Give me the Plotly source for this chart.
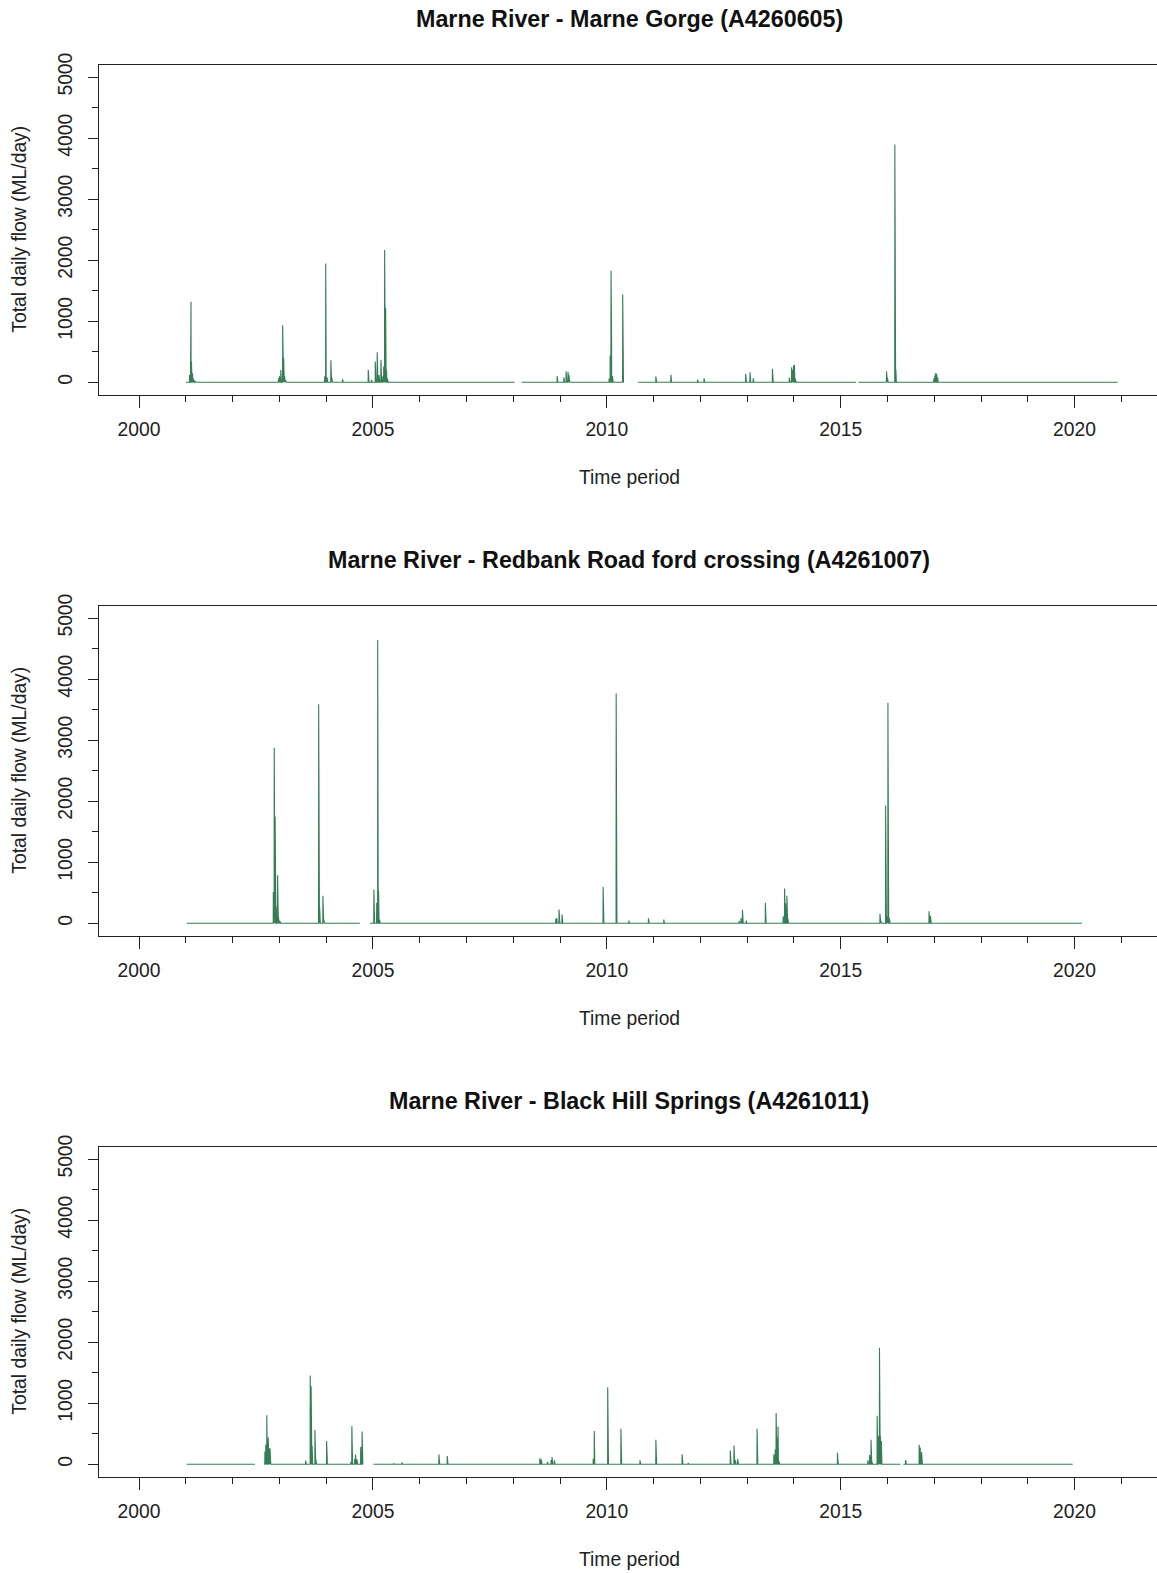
import numpy as np
import pandas as pd
import plotly.graph_objects as go

# ---------------------------------------------------------------- data
STATION_TITLES = [
    "Marne River - Marne Gorge (A4260605)",
    "Marne River - Redbank Road ford crossing (A4261007)",
    "Marne River - Black Hill Springs (A4261011)",
]

# record period (decimal years) and gaps with no record
RECORD_START = [2001.00, 2001.02, 2001.02]
RECORD_END = [2020.92, 2020.16, 2019.96]
GAPS_A4260605 = [(2008.03, 2008.18), (2010.36, 2010.67), (2015.33, 2015.38)]
GAPS_A4261007 = [(2004.72, 2004.94)]
GAPS_A4261011 = [(2002.48, 2002.67), (2004.79, 2005.01), (2016.28, 2016.34)]

# flow events: day (decimal year) and total daily flow (ML/day)
EVENT_YEARS_A4260605 = [
    2001.08, 2001.10, 2001.11, 2001.12, 2001.14, 2001.16, 2001.19,
    2002.98, 2003.00, 2003.03, 2003.07, 2003.09, 2003.11, 2003.13,
    2003.97, 2003.99, 2004.00, 2004.02, 2004.10, 2004.12, 2004.35,
    2004.90, 2004.97, 2005.05, 2005.09, 2005.13, 2005.17, 2005.21, 2005.23,
    2005.25, 2005.27, 2005.29, 2005.31,
    2008.94, 2009.08, 2009.13, 2009.17, 2009.19,
    2010.05, 2010.07, 2010.09, 2010.10, 2010.12, 2010.34,
    2011.05, 2011.37, 2011.94, 2012.08,
    2012.97, 2013.06, 2013.13, 2013.54,
    2013.90, 2013.95, 2013.97, 2013.99, 2014.01, 2014.03,
    2015.98, 2016.00, 2016.16, 2016.18,
    2016.99, 2017.01, 2017.03, 2017.05, 2017.07,
]
EVENT_FLOWS_A4260605 = [
    120, 690, 1320, 340, 150, 60, 30,
    60, 100, 200, 933, 401, 100, 40,
    100, 1947, 1234, 80, 362, 80, 50,
    204, 40, 340, 493, 120, 368, 100, 258,
    2166, 1217, 200, 60,
    100, 80, 180, 170, 120,
    60, 440, 1826, 714, 100, 1437,
    99, 122, 44, 66,
    137, 165, 66, 220,
    77, 247, 200, 275, 286, 60,
    181, 77, 3893, 204,
    60, 110, 150, 140, 80,
]

EVENT_YEARS_A4261007 = [
    2002.87, 2002.89, 2002.91, 2002.93, 2002.96, 2002.98, 2003.01,
    2003.84, 2003.86, 2003.93, 2003.95,
    2005.02, 2005.08, 2005.10, 2005.12, 2005.14,
    2008.91, 2008.93, 2008.98, 2009.04,
    2009.92, 2010.20, 2010.47, 2010.89, 2011.22,
    2012.83, 2012.87, 2012.90, 2012.98, 2013.39,
    2013.77, 2013.80, 2013.82, 2013.85, 2013.87,
    2015.84, 2015.86, 2015.96, 2015.99, 2016.01, 2016.04,
    2016.89, 2016.92,
]
EVENT_FLOWS_A4261007 = [
    514, 2876, 1745, 275, 785, 100, 40,
    3589, 275, 451, 60,
    553, 336, 4638, 530, 60,
    72, 88, 225, 143,
    598, 3765, 45, 82, 60,
    40, 82, 220, 45, 335,
    114, 571, 329, 451, 80,
    155, 40, 1930, 114, 3612, 80,
    197, 122,
]

EVENT_YEARS_A4261011 = [
    2002.69, 2002.71, 2002.73, 2002.76, 2002.78, 2002.80,
    2003.56, 2003.66, 2003.68, 2003.70, 2003.76, 2003.78,
    2004.01,
    2004.53, 2004.55, 2004.61, 2004.63, 2004.66, 2004.74, 2004.77,
    2005.44, 2005.62, 2006.41, 2006.59,
    2008.57, 2008.60, 2008.73, 2008.81, 2008.83, 2008.88,
    2009.71, 2009.73, 2010.02, 2010.30, 2010.71, 2011.05, 2011.61, 2011.74,
    2012.64, 2012.72, 2012.75, 2012.80, 2013.21,
    2013.57, 2013.60, 2013.62, 2013.64, 2013.66, 2013.68,
    2014.93,
    2015.58, 2015.62, 2015.65, 2015.67, 2015.78, 2015.81, 2015.83, 2015.85, 2015.87,
    2016.39, 2016.68, 2016.70, 2016.73,
]
EVENT_FLOWS_A4261011 = [
    211, 319, 805, 438, 267, 260,
    60, 1456, 1280, 300, 560, 80,
    380,
    40, 625, 90, 160, 80, 285, 538,
    15, 30, 160, 135,
    100, 80, 40, 70, 120, 65,
    90, 545, 1261, 583, 65, 403, 165, 20,
    225, 307, 65, 90, 583,
    165, 245, 838, 440, 620, 50,
    190,
    65, 150, 403, 40, 795, 460, 1910, 460, 380,
    70, 320, 275, 200,
]

X_TICK_YEARS = [2000, 2005, 2010, 2015, 2020]
X_TICK_LABELS = ["2000", "2005", "2010", "2015", "2020"]
Y_TICK_VALUES = [0, 1000, 2000, 3000, 4000, 5000]
Y_TICK_LABELS = ["0", "1000", "2000", "3000", "4000", "5000"]
X_TITLE = "Time period"
Y_TITLE = "Total daily flow (ML/day)"


# ---------------------------------------------------------------- helpers
def to_date(dec_year):
    year = int(dec_year)
    frac = dec_year - year
    return pd.Timestamp(year, 1, 1) + pd.Timedelta(days=round(frac * 365.25))


def daily_series(start, end, gaps, event_years, event_flows):
    days = pd.date_range(to_date(start), to_date(end), freq="D")
    flow = np.zeros(len(days))
    for g0, g1 in gaps:
        flow[(days > to_date(g0)) & (days < to_date(g1))] = np.nan
    for yr, q in zip(event_years, event_flows):
        idx = days.get_indexer([to_date(yr)], method="nearest")[0]
        flow[idx] = q
    return days, flow


STATIONS = [
    (GAPS_A4260605, EVENT_YEARS_A4260605, EVENT_FLOWS_A4260605),
    (GAPS_A4261007, EVENT_YEARS_A4261007, EVENT_FLOWS_A4261007),
    (GAPS_A4261011, EVENT_YEARS_A4261011, EVENT_FLOWS_A4261011),
]

# ---------------------------------------------------------------- layout geometry (pixels)
W, H = 1157, 1573
PLOT_LEFT = 99.3
PANEL_TOP = 64.8
PANEL_BOTTOM = 394.5
PANEL_STEP = 541.0
LINE_COLOUR = "#357E55"
AXIS_COLOUR = "#222222"
FONT = "Liberation Sans, Arial, sans-serif"
TICK_SIZE = 19.3
TITLE_SIZE = 23.3

fig = go.Figure()
layout = dict(
    width=W, height=H, autosize=False,
    margin=dict(l=0, r=0, t=0, b=0, autoexpand=False),
    paper_bgcolor="white", plot_bgcolor="white",
    showlegend=False,
    font=dict(family=FONT, size=TICK_SIZE, color="#222222"),
    annotations=[],
)

centre_x = (PLOT_LEFT + 1159) / 2 / W

for k, (gaps, ev_years, ev_flows) in enumerate(STATIONS):
    days, flow = daily_series(RECORD_START[k], RECORD_END[k], gaps, ev_years, ev_flows)
    suffix = "" if k == 0 else str(k + 1)
    fig.add_trace(go.Scatter(
        x=days, y=flow, mode="lines",
        line=dict(color=LINE_COLOUR, width=1.1),
        connectgaps=False,
        xaxis="x" + suffix, yaxis="y" + suffix,
        hoverinfo="skip",
    ))

    top = PANEL_TOP + k * PANEL_STEP
    bottom = PANEL_BOTTOM + k * PANEL_STEP
    ydom = [1 - bottom / H, 1 - top / H]

    layout["xaxis" + suffix] = dict(
        domain=[PLOT_LEFT / W, 1.0],
        anchor="y" + suffix,
        type="date",
        range=["1999-02-25", "2021-10-06"],
        tickmode="array",
        tickvals=[f"{y}-01-01" for y in X_TICK_YEARS],
        ticktext=X_TICK_LABELS,
        ticks="outside", ticklen=12, tickwidth=1.3, tickcolor=AXIS_COLOUR,
        minor=dict(dtick="M12", tick0="2000-01-01", ticks="outside",
                   ticklen=6, tickwidth=1.3, tickcolor=AXIS_COLOUR),
        showline=True, linecolor=AXIS_COLOUR, linewidth=1.3, mirror=True,
        showgrid=False, zeroline=False, automargin=False,
        tickfont=dict(size=TICK_SIZE, color="#222222"),
        ticklabelstandoff=5,
        fixedrange=True,
    )
    layout["yaxis" + suffix] = dict(
        domain=ydom,
        anchor="x" + suffix,
        range=[-200, 5200],
        tickmode="array",
        tickvals=Y_TICK_VALUES,
        ticktext=Y_TICK_LABELS,
        tickangle=-90,
        ticks="outside", ticklen=10, tickwidth=1.3, tickcolor=AXIS_COLOUR,
        minor=dict(dtick=500, tick0=0, ticks="outside",
                   ticklen=6, tickwidth=1.3, tickcolor=AXIS_COLOUR),
        showline=True, linecolor=AXIS_COLOUR, linewidth=1.3, mirror=False,
        showgrid=False, zeroline=False, automargin=False,
        tickfont=dict(size=TICK_SIZE, color="#222222"),
        ticklabelstandoff=8,
        fixedrange=True,
    )

    # panel title
    layout["annotations"].append(dict(
        text="<b>" + STATION_TITLES[k] + "</b>",
        x=centre_x, y=1 - (19 + k * PANEL_STEP) / H,
        xref="paper", yref="paper", xanchor="center", yanchor="middle",
        showarrow=False, font=dict(size=TITLE_SIZE, color="#111111", family=FONT),
    ))
    # x axis title
    layout["annotations"].append(dict(
        text=X_TITLE,
        x=centre_x, y=1 - (477 + k * PANEL_STEP) / H,
        xref="paper", yref="paper", xanchor="center", yanchor="middle",
        showarrow=False, font=dict(size=TICK_SIZE, color="#222222", family=FONT),
    ))
    # y axis title
    layout["annotations"].append(dict(
        text=Y_TITLE, textangle=-90,
        x=20 / W, y=1 - ((top + bottom) / 2) / H,
        xref="paper", yref="paper", xanchor="center", yanchor="middle",
        showarrow=False, font=dict(size=TICK_SIZE, color="#222222", family=FONT),
    ))

fig.update_layout(**layout)
fig.write_html("out.html")
